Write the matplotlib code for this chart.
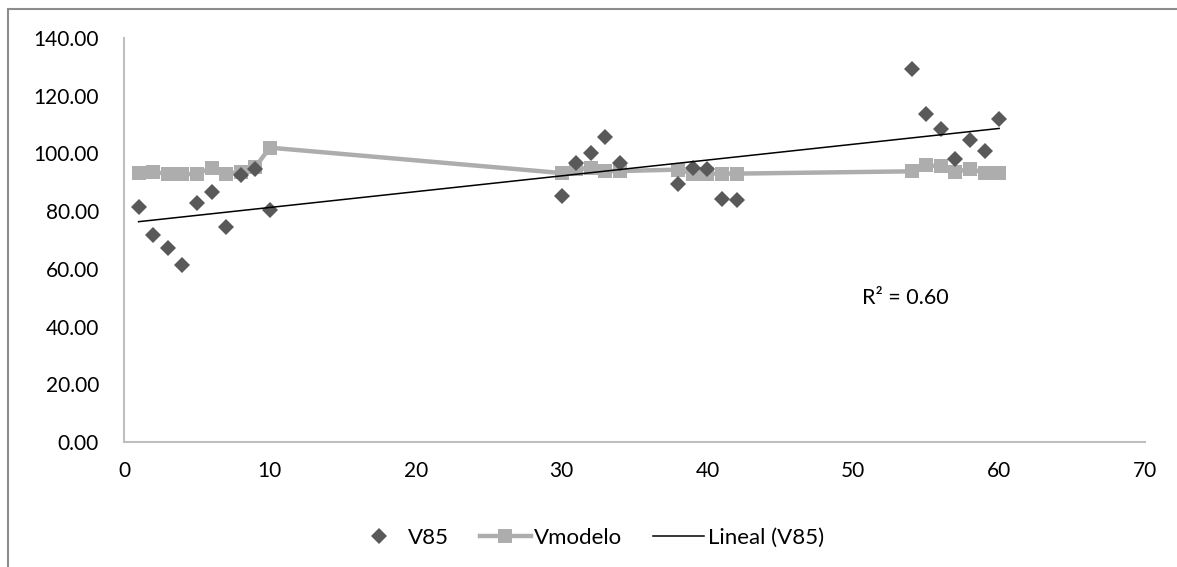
import numpy as np
import matplotlib
matplotlib.use("Agg")
import matplotlib.pyplot as plt
from matplotlib.patches import Rectangle
from matplotlib.ticker import FormatStrFormatter, MultipleLocator

plt.rcParams['font.family'] = ['Lato', 'DejaVu Sans']

# V85 observations
x_v85 = [1, 2, 3, 4, 5, 6, 7, 8, 9, 10,
         30, 31, 32, 33, 34, 38, 39, 40, 41, 42,
         54, 55, 56, 57, 58, 59, 60]
v85 = [81.4, 71.6, 67.2, 61.4, 82.7, 86.8, 74.4, 92.6, 94.7, 80.5,
       85.1, 96.8, 100.2, 105.7, 96.8, 89.5, 95.1, 94.7, 84.3, 83.9,
       129.2, 113.8, 108.6, 98.1, 104.5, 100.7, 112.1]

# Vmodelo
vmodelo = [93.3, 93.5, 93.0, 92.7, 93.0, 94.9, 93.0, 93.5, 95.3, 102.0,
           93.2, 94.5, 95.0, 93.9, 93.9, 94.4, 93.0, 93.0, 93.0, 93.0,
           93.8, 95.9, 95.5, 93.6, 94.7, 93.3, 93.3]

r2_label = "R² = 0.60"

fig = plt.figure(figsize=(11.77, 5.67), dpi=100)
ax = fig.add_axes([124/1177, 1 - 442/567, (1145-124)/1177, (442-38)/567])

gray_axis = '#bfbfbf'
ax.plot(x_v85, vmodelo, color='#adadad', lw=3.2, marker='s', markersize=10,
        markeredgewidth=0, label='Vmodelo', zorder=2)
ax.plot(x_v85, v85, linestyle='none', marker='D', color='#595959', markersize=8.3,
        markeredgewidth=0, label='V85', zorder=3)

coef = np.polyfit(x_v85, v85, 1)
xt = np.array([min(x_v85), max(x_v85)])
ax.plot(xt, np.polyval(coef, xt), color='black', lw=1.1, label='Lineal (V85)', zorder=4)

ax.text(50.6, 50, r2_label, fontsize=15.5, color='black', va='center', ha='left')

ax.set_xlim(0, 70)
ax.set_ylim(0, 140)
ax.xaxis.set_major_locator(MultipleLocator(10))
ax.yaxis.set_major_locator(MultipleLocator(20))
ax.yaxis.set_major_formatter(FormatStrFormatter('%.2f'))
for s in ['top', 'right']:
    ax.spines[s].set_visible(False)
for s in ['left', 'bottom']:
    ax.spines[s].set_color(gray_axis)
    ax.spines[s].set_linewidth(1.5)
ax.tick_params(axis='both', length=0, labelsize=15, colors='black')
ax.tick_params(axis='x', pad=14)
ax.tick_params(axis='y', pad=18)

handles, labels = ax.get_legend_handles_labels()
order = [1, 0, 2]
fig.legend([handles[i] for i in order], [labels[i] for i in order],
           loc='center', bbox_to_anchor=(0.5, 1 - 538/567), ncol=3, frameon=False,
           fontsize=16, handlelength=2.3, columnspacing=1.4, handletextpad=0.15)

fig.patches.append(Rectangle((8/1177, -0.5), 2, (1 - 9/567) + 0.5, transform=fig.transFigure,
                             fill=False, edgecolor='#8c8c8c', lw=1.5))

fig.savefig('out.png', dpi=100)
